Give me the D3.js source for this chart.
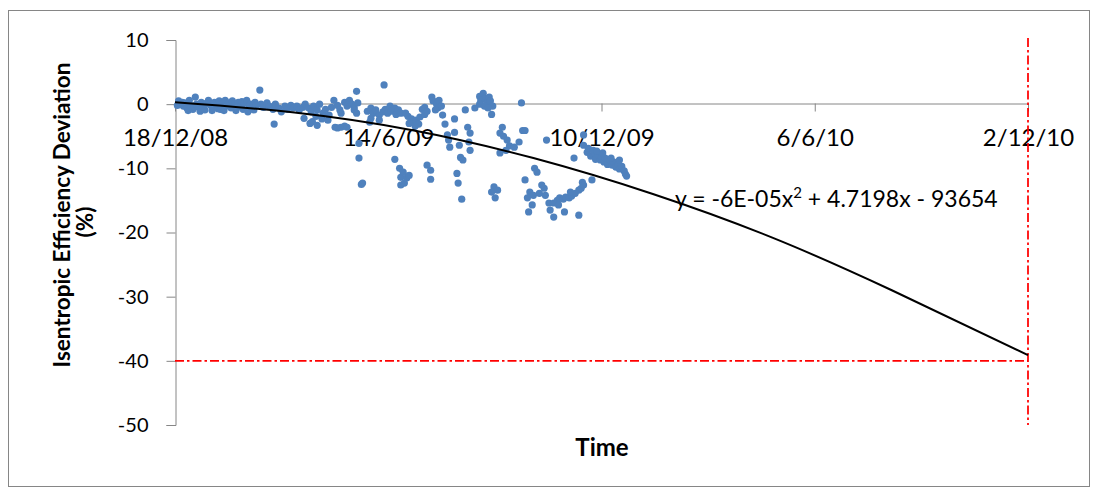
<!DOCTYPE html>
<html>
<head>
<meta charset="utf-8">
<script src="https://cdn.jsdelivr.net/npm/d3@7"></script>
<style>
  body { margin: 0; background: #fff; }
  svg text { font-family: Lato, "Liberation Sans", sans-serif; fill: #000; }
</style>
</head>
<body>
<svg id="chart" width="1097" height="489"></svg>
<script>
// start of the time axis, points are [days since start, deviation %]
var startDate = "2008-12-18";
var xTickDays = [0, 178.5, 357, 535.5, 714];   // 18/12/08 ... 2/12/10
var yTicks = [10, 0, -10, -20, -30, -40, -50];
var limitValue = -40;     // red horizontal limit
var limitDay = 714;       // red vertical limit (2/12/10)
var equation = "y = -6E-05x";
var equationTail = " + 4.7198x - 93654";

var points = [
  [2,-0.2],[3,0.5],[5,0],[6,0.3],[7,-0.3],[8,0.2],[10,-0.6],[11,-1.0],[12,0.6],[13,-0.2],[15,-0.8],[16,-0.4],
  [17,1.1],[18,0],[20,-0.5],[21,-1.1],[22,0.3],[23,-0.3],[25,-0.9],[26,0.1],[27,0.2],[28,0.6],[30,-0.2],[31,-1.0],
  [32,-0.6],[33,0.3],[35,-0.3],[36,-0.7],[37,0.5],[38,-0.8],[40,0],[41,-1.0],[42,0.6],[43,-0.3],[45,0.2],[46,-0.2],
  [47,-0.6],[48,0.5],[50,0],[51,-1.0],[52,-0.5],[53,0.3],[55,-0.2],[56,0.4],[57,-0.8],[58,0.2],[60,0.6],[61,-1.2],
  [62,-0.3],[63,0],[65,-0.5],[66,-0.9],[67,0.3],[68,-0.2],[71,2.2],[83,-3.1],
  [72,0],[74,-0.5],[77,0.2],[79,-0.3],[82,-0.8],[84,0],[87,-0.6],[89,-1.2],[92,-0.3],[94,-0.8],[97,-0.2],[99,-0.6],
  [102,-0.3],[104,-0.9],[107,-0.5],[109,0],[112,-0.6],[114,-1.2],[116,-0.3],[118,-1.9],[119,-0.9],[121,0],[123,-2.3],
  [124,-1.4],[126,-0.8],[128,-2.5],[129,-1.7],[131,-0.5],[113,-3.0],[108,-2.2],[115,-2.7],[119,-3.3],
  [133,0.6],[136,-0.2],[138,-0.9],[139,-1.4],[134,-3.6],[136,-3.7],[139,-3.6],[142,-3.4],[144,-3.6],
  [142,0.3],[144,-0.3],[146,0.6],[148,0],[150,-0.9],[150,-0.5],[152,-1.4],[153,0.2],[152,2.0],[175,3.0],
  [154,-6.1],[154,-8.4],[157,-12.3],[156,-12.5],[163,-2.8],
  [161,-1.1],[164,-0.6],[166,-1.4],[168,-0.9],[171,-1.7],[174,-1.2],[176,-0.8],[178,-1.4],[180,-0.3],[181,-1.1],
  [184,-0.6],[185,-1.6],[187,-0.9],[189,-1.4],[171,-2.5],[164,-2.2],
  [184,-8.6],[188,-10.0],[189,-11.4],[189,-12.6],[191,-10.6],[194,-11.5],[192,-12.3],[196,-11.1],
  [215,1.1],[216,0.5],[219,0],[221,0.6],[220,-0.6],[223,-0.3],[218,-0.9],
  [193,-1.4],[195,-1.9],[198,-2.3],[199,-2.8],[202,-2.5],[204,-3.1],[205,-2.0],[201,-3.4],[196,-3.0],
  [207,-0.8],[209,-0.5],[211,-1.1],[209,-1.6],
  [224,-1.7],[226,-3.1],[234,-2.3],[243,-0.9],[251,-0.6],
  [234,-4.4],[228,-4.8],[230,-6.7],[245,-3.6],[247,-4.5],[247,-7.2],[239,-8.3],[241,-8.7],[229,-5.6],[238,-6.4],[246,-5.9],
  [211,-9.5],[214,-10.3],[214,-11.7],[236,-10.8],[237,-12.3],[240,-14.8],
  [255,1.2],[256,0.6],[258,1.7],[260,0.9],[261,0.2],[263,1.1],[255,0],[259,-0.3],[264,0.5],[266,-0.3],[262,-0.6],[265,-1.6],
  [290,0.2],
  [274,-3.6],[272,-4.5],[275,-5.0],[278,-5.6],[280,-6.5],[277,-7.2],[284,-6.7],[288,-5.9],[291,-4.1],[293,-4.1],[272,-7.6],[311,-5.6],
  [301,-10.0],[303,-10.6],[293,-11.8],
  [267,-12.9],[270,-13.4],[268,-14.6],[265,-13.7],
  [297,-13.7],[309,-13.1],[305,-13.9],[295,-14.6],[299,-15.7],[296,-16.8],[313,-15.4],[314,-16.5],[300,-14.2],[307,-12.6],[310,-14.2],
  [342,-4.8],[342,-6.4],[334,-8.4],
  [345,-7.5],[346,-6.9],[348,-8.1],[351,-7.6],[352,-8.6],[354,-7.9],[356,-8.7],[357,-8.3],[359,-9.0],[360,-8.4],[362,-9.4],
  [364,-8.7],[366,-9.5],[367,-9.0],[369,-9.8],[371,-9.4],[372,-10.1],[374,-9.7],[376,-10.4],[377,-10.9],[378,-11.2],
  [350,-7.2],[353,-7.3],[358,-7.6],[365,-8.4],[372,-8.7],
  [349,-11.8],[341,-12.2],
  [317,-15.4],[320,-15.0],[322,-14.6],[325,-14.8],[327,-14.5],[330,-14.6],[332,-14.3],[335,-13.9],[338,-13.4],[340,-13.1],
  [342,-12.6],[321,-15.7],[331,-13.7],
  [326,-16.8],[338,-17.3],[317,-17.6]
];

// polynomial trend line
var trendDays = [0, 100, 200, 300, 400, 500, 600, 714];
var trendValues = [0.3, -1.3, -4.1, -8.4, -14.0, -20.8, -29.0, -39.1];

var svg = d3.select("#chart");
var start = d3.utcParse("%Y-%m-%d")(startDate);
function dayToDate(d) { return new Date(start.getTime() + d * 864e5); }

var x = d3.scaleUtc()
    .domain([dayToDate(0), dayToDate(714)])
    .range([175, 1028]);
var y = d3.scaleLinear()
    .domain([-50, 10])
    .range([425, 40]);

var axisColor = "#868686";

// chart border
svg.append("rect")
    .attr("x", 8.5).attr("y", 10.5)
    .attr("width", 1081).attr("height", 476)
    .attr("fill", "none").attr("stroke", axisColor).attr("stroke-width", 1);

// y axis
var gy = svg.append("g")
    .attr("transform", "translate(175.5,0)")
    .call(d3.axisLeft(y).tickValues(yTicks).tickFormat(function(d) { return String(d); })
      .tickSize(9).tickSizeOuter(9).tickPadding(18));
gy.selectAll("path, line").attr("stroke", axisColor);
gy.selectAll("text").attr("font-size", 20).attr("font-family", "Lato, sans-serif").attr("fill", "#000");

// x axis, crossing at 0
var gx = svg.append("g")
    .attr("transform", "translate(0," + (Math.round(y(0)) - 0.5) + ")")
    .call(d3.axisBottom(x)
      .tickValues(xTickDays.map(dayToDate))
      .tickFormat(d3.utcFormat("%-d/%-m/%y"))
      .tickSize(8).tickSizeOuter(0).tickPadding(17));
gx.selectAll("path, line").attr("stroke", axisColor);
gx.selectAll("text").attr("font-size", 24).attr("font-family", "Lato, sans-serif").attr("fill", "#000");

// red limit lines
svg.append("line")
    .attr("x1", 175).attr("x2", x(dayToDate(limitDay)))
    .attr("y1", y(limitValue)).attr("y2", y(limitValue))
    .attr("stroke", "#ff0000").attr("stroke-width", 1.75)
    .attr("stroke-dasharray", "9,3,2.5,3");
svg.append("line")
    .attr("x1", x(dayToDate(limitDay))).attr("x2", x(dayToDate(limitDay)))
    .attr("y1", 38).attr("y2", 425)
    .attr("stroke", "#ff0000").attr("stroke-width", 1.75)
    .attr("stroke-dasharray", "9,3,2.5,3");

// scatter
svg.append("g").selectAll("circle")
    .data(points)
    .join("circle")
    .attr("cx", function(d) { return x(dayToDate(d[0])); })
    .attr("cy", function(d) { return y(d[1]); })
    .attr("r", 3.6)
    .attr("fill", "#4f81bd");

// trend line
var line = d3.line()
    .x(function(d, i) { return x(dayToDate(trendDays[i])); })
    .y(function(d) { return y(d); })
    .curve(d3.curveNatural);
svg.append("path")
    .attr("d", line(trendValues))
    .attr("fill", "none")
    .attr("stroke", "#000")
    .attr("stroke-width", 2);

// equation label
var eq = svg.append("text")
    .attr("x", 675).attr("y", 207)
    .attr("font-size", 23);
eq.append("tspan").text(equation);
eq.append("tspan").attr("dy", -9).attr("font-size", 15).text("2");
eq.append("tspan").attr("dy", 9).text(equationTail);

// axis titles
svg.append("text")
    .attr("transform", "translate(61,215) rotate(-90)")
    .attr("text-anchor", "middle")
    .attr("dominant-baseline", "central")
    .attr("font-size", 22.5).attr("font-weight", "bold")
    .text("Isentropic Efficiency Deviation");
svg.append("text")
    .attr("transform", "translate(84,222) rotate(-90)")
    .attr("text-anchor", "middle")
    .attr("dominant-baseline", "central")
    .attr("font-size", 22.5).attr("font-weight", "bold")
    .text("(%)");

svg.append("text")
    .attr("x", 602).attr("y", 456)
    .attr("text-anchor", "middle")
    .attr("font-size", 24).attr("font-weight", "bold")
    .text("Time");
</script>
</body>
</html>
